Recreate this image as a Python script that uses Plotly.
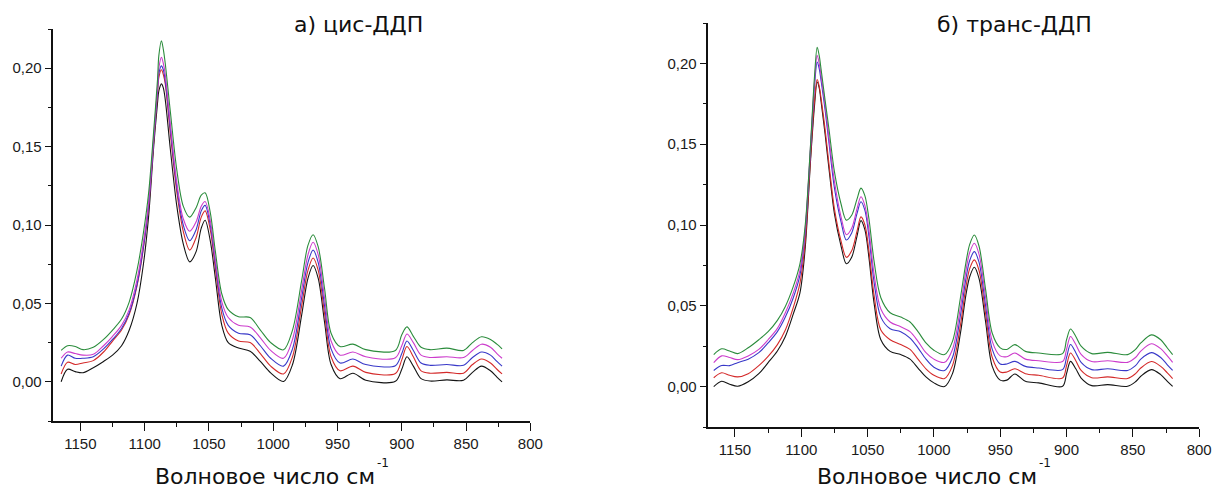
import plotly.graph_objects as go

# ---------------- data ----------------
WN_CIS = [1165, 1160, 1154, 1148, 1140, 1132, 1125, 1118, 1112, 1106, 1101, 1097, 1093, 1090, 1089, 1087,
          1085.5, 1084, 1080, 1075, 1070, 1065, 1060, 1056, 1053, 1049, 1045, 1040, 1035, 1027, 1018, 1010,
          1002, 992, 985, 978, 973, 969, 965, 960, 955, 948, 938, 928, 905, 900, 896, 891, 885, 878,
          865, 852, 845, 838, 831, 826, 822]
CIS_BLACK = [0.000, 0.008, 0.0065, 0.0058, 0.009, 0.013, 0.017, 0.023, 0.033, 0.050, 0.075, 0.105, 0.150, 0.178, 0.1855, 0.190,
             0.1875, 0.180, 0.148, 0.112, 0.088, 0.0765, 0.083, 0.098, 0.103, 0.090, 0.066, 0.036, 0.025, 0.0215, 0.0195, 0.013,
             0.0057, 0.0002, 0.011, 0.042, 0.066, 0.0742, 0.066, 0.0375, 0.011, 0.002, 0.0055, 0.001, 0.0003, 0.008, 0.016, 0.010, 0.002, 0.0005,
             0.0012, 0.001, 0.006, 0.010, 0.007, 0.003, 0.000]
CIS_RED = [0.005, 0.0125, 0.011, 0.012, 0.0135, 0.019, 0.026, 0.033, 0.043, 0.061, 0.085, 0.111, 0.153, 0.184, 0.194, 0.199,
           0.196, 0.190, 0.158, 0.121, 0.096, 0.084, 0.092, 0.105, 0.109, 0.097, 0.072, 0.043, 0.031, 0.026, 0.025, 0.018,
           0.010, 0.005, 0.016, 0.048, 0.071, 0.079, 0.071, 0.043, 0.016, 0.007, 0.010, 0.006, 0.0053, 0.014, 0.0225, 0.016, 0.007, 0.0055,
           0.006, 0.0055, 0.011, 0.0145, 0.012, 0.008, 0.005]
CIS_BLUE = [0.010, 0.017, 0.015, 0.015, 0.016, 0.021, 0.027, 0.034, 0.044, 0.062, 0.086, 0.112, 0.154, 0.186, 0.1965, 0.2015,
            0.199, 0.192, 0.161, 0.124, 0.100, 0.090, 0.097, 0.109, 0.1125, 0.100, 0.075, 0.047, 0.036, 0.031, 0.030, 0.023,
            0.015, 0.010, 0.021, 0.053, 0.076, 0.084, 0.076, 0.048, 0.021, 0.012, 0.0145, 0.011, 0.0103, 0.018, 0.026, 0.020, 0.012, 0.0105,
            0.011, 0.0105, 0.0155, 0.019, 0.017, 0.013, 0.010]
CIS_MAGENTA = [0.015, 0.019, 0.018, 0.017, 0.0175, 0.023, 0.029, 0.036, 0.046, 0.065, 0.089, 0.114, 0.156, 0.188, 0.200, 0.207,
               0.203, 0.196, 0.164, 0.127, 0.104, 0.096, 0.102, 0.112, 0.115, 0.103, 0.078, 0.051, 0.041, 0.036, 0.035, 0.028,
               0.020, 0.015, 0.027, 0.058, 0.081, 0.089, 0.081, 0.053, 0.026, 0.017, 0.019, 0.016, 0.0153, 0.023, 0.0305, 0.025, 0.017, 0.0155,
               0.016, 0.0155, 0.020, 0.024, 0.022, 0.018, 0.015]
CIS_GREEN = [0.020, 0.023, 0.0225, 0.0205, 0.022, 0.027, 0.033, 0.040, 0.051, 0.071, 0.095, 0.120, 0.160, 0.193, 0.208, 0.2175,
             0.212, 0.203, 0.172, 0.135, 0.112, 0.105, 0.111, 0.119, 0.1205, 0.108, 0.083, 0.056, 0.046, 0.0415, 0.041, 0.033,
             0.025, 0.0204, 0.033, 0.064, 0.087, 0.0938, 0.086, 0.059, 0.031, 0.0225, 0.024, 0.0205, 0.020, 0.030, 0.035, 0.029, 0.022, 0.0205,
             0.0215, 0.020, 0.025, 0.0287, 0.027, 0.024, 0.021]

WN_TRANS = [1166, 1160, 1154, 1148, 1140, 1132, 1125, 1118, 1112, 1106, 1101, 1097, 1093, 1090, 1088, 1086.5, 1085,
            1082, 1079, 1075, 1070, 1066, 1062, 1058, 1055, 1052, 1049, 1045, 1040, 1033, 1025, 1018, 1012,
            1006, 1000, 992, 986, 980, 976, 973, 969.5, 966, 961, 956, 950, 945, 939, 931, 921, 903, 900,
            897, 893, 889, 881, 869, 854, 848, 844, 836, 829, 824, 820]
TRANS_BLACK = [0.000, 0.0033, 0.0015, 0.0002, 0.003, 0.008, 0.0148, 0.022, 0.031, 0.045, 0.058, 0.086, 0.140, 0.174, 0.1885, 0.185, 0.176,
               0.156, 0.134, 0.107, 0.087, 0.076, 0.080, 0.093, 0.1027, 0.097, 0.080, 0.051, 0.029, 0.0218, 0.0198, 0.017, 0.0115,
               0.006, 0.0023, 0.000, 0.008, 0.033, 0.056, 0.068, 0.0739, 0.067, 0.040, 0.0125, 0.004, 0.004, 0.0078, 0.0033, 0.0023, 0.0002, 0.008,
               0.0156, 0.011, 0.0053, 0.0006, 0.0012, 0.0002, 0.003, 0.0064, 0.0105, 0.0074, 0.0033, 0.0002]
TRANS_RED = [0.0055, 0.0086, 0.007, 0.006, 0.008, 0.013, 0.0187, 0.026, 0.035, 0.049, 0.064, 0.090, 0.142, 0.177, 0.190, 0.186, 0.178,
             0.159, 0.137, 0.110, 0.090, 0.080, 0.084, 0.096, 0.105, 0.100, 0.084, 0.056, 0.035, 0.029, 0.026, 0.023, 0.017,
             0.011, 0.007, 0.005, 0.013, 0.038, 0.061, 0.073, 0.0784, 0.072, 0.045, 0.018, 0.009, 0.009, 0.011, 0.008, 0.007, 0.0053, 0.013,
             0.0208, 0.016, 0.010, 0.0055, 0.006, 0.005, 0.008, 0.0115, 0.0155, 0.0125, 0.0085, 0.005]
TRANS_BLUE = [0.010, 0.013, 0.013, 0.0148, 0.017, 0.021, 0.027, 0.034, 0.043, 0.055, 0.069, 0.096, 0.147, 0.186, 0.2008, 0.197, 0.189,
              0.171, 0.150, 0.123, 0.102, 0.0907, 0.095, 0.107, 0.1144, 0.109, 0.093, 0.064, 0.043, 0.0358, 0.034, 0.030, 0.024,
              0.017, 0.012, 0.010, 0.018, 0.044, 0.066, 0.078, 0.0835, 0.077, 0.050, 0.023, 0.014, 0.014, 0.0156, 0.0125, 0.0115, 0.0105, 0.018,
              0.026, 0.021, 0.015, 0.0105, 0.011, 0.010, 0.013, 0.017, 0.021, 0.018, 0.0135, 0.010]
TRANS_MAGENTA = [0.0148, 0.019, 0.018, 0.0167, 0.019, 0.023, 0.029, 0.036, 0.0457, 0.058, 0.072, 0.098, 0.149, 0.189, 0.205, 0.200, 0.192,
                 0.174, 0.153, 0.127, 0.105, 0.094, 0.098, 0.110, 0.1175, 0.112, 0.097, 0.069, 0.048, 0.040, 0.037, 0.034, 0.028,
                 0.021, 0.017, 0.015, 0.023, 0.049, 0.071, 0.083, 0.0887, 0.082, 0.055, 0.028, 0.019, 0.0185, 0.0208, 0.017, 0.016, 0.0155, 0.023,
                 0.031, 0.026, 0.020, 0.0155, 0.016, 0.015, 0.018, 0.022, 0.0265, 0.0235, 0.019, 0.015]
TRANS_GREEN = [0.0198, 0.0234, 0.022, 0.0204, 0.024, 0.029, 0.034, 0.041, 0.0496, 0.062, 0.076, 0.100, 0.150, 0.192, 0.210, 0.205, 0.196,
               0.177, 0.1586, 0.133, 0.113, 0.103, 0.106, 0.116, 0.1228, 0.118, 0.104, 0.077, 0.055, 0.0457, 0.043, 0.040, 0.034,
               0.027, 0.0225, 0.0198, 0.028, 0.055, 0.076, 0.088, 0.0938, 0.087, 0.060, 0.033, 0.024, 0.023, 0.026, 0.0218, 0.0208, 0.0204, 0.029,
               0.0356, 0.031, 0.025, 0.0204, 0.0212, 0.0198, 0.023, 0.027, 0.032, 0.029, 0.0239, 0.0198]

PANEL_TITLES = ["а) цис-ДДП", "б) транс-ДДП"]
X_TITLE = "Волновое число см"
X_TITLE_SUP = "-1"

# ---------------- styling ----------------
W, H = 1228, 488
COLORS = {"black": "#141414", "red": "#d42a2a", "blue": "#3838c8", "magenta": "#cc3ccc", "green": "#2b8c3c"}
TICK_FONT = dict(family="Liberation Sans, Arial, sans-serif", size=15, color="#1a1a1a")
TEXT_FONT = "DejaVu Sans, Verdana, sans-serif"


def px_x(p):
    return p / W


def px_y(p):
    return 1 - p / H


fig = go.Figure()

series_cis = [("black", CIS_BLACK), ("red", CIS_RED), ("blue", CIS_BLUE), ("magenta", CIS_MAGENTA), ("green", CIS_GREEN)]
series_trans = [("black", TRANS_BLACK), ("red", TRANS_RED), ("blue", TRANS_BLUE), ("magenta", TRANS_MAGENTA), ("green", TRANS_GREEN)]

for name, ys in series_cis:
    fig.add_trace(go.Scatter(x=WN_CIS, y=ys, mode="lines", xaxis="x", yaxis="y",
                             line=dict(color=COLORS[name], width=1.1, shape="spline", smoothing=0.9),
                             showlegend=False, hoverinfo="skip"))
for name, ys in series_trans:
    fig.add_trace(go.Scatter(x=WN_TRANS, y=ys, mode="lines", xaxis="x2", yaxis="y2",
                             line=dict(color=COLORS[name], width=1.1, shape="spline", smoothing=0.9),
                             showlegend=False, hoverinfo="skip"))

xcommon = dict(showline=True, linecolor="#111", linewidth=1.6, ticks="outside", ticklen=8, tickwidth=1.4,
               tickcolor="#111", tickfont=TICK_FONT, showgrid=False, zeroline=False, dtick=50, tick0=800,
               minor=dict(dtick=25, ticks="outside", ticklen=4, tickwidth=1.2, tickcolor="#111", showgrid=False),
               fixedrange=True)
ycommon = dict(showline=True, linecolor="#111", linewidth=1.6, ticks="outside", ticklen=7, tickwidth=1.4,
               tickcolor="#111", tickfont=TICK_FONT, showgrid=False, zeroline=False, dtick=0.05, tick0=0,
               tickformat=".2f", range=[-0.025, 0.225],
               minor=dict(dtick=0.025, ticks="outside", ticklen=4, tickwidth=1.2, tickcolor="#111", showgrid=False),
               fixedrange=True)

fig.update_layout(
    width=W, height=H,
    margin=dict(l=0, r=0, t=0, b=0),
    paper_bgcolor="white", plot_bgcolor="white",
    separators=", ",
    xaxis=dict(**xcommon, domain=[px_x(54), px_x(536)], range=[1171, 800], anchor="y"),
    yaxis=dict(**ycommon, domain=[px_y(421), px_y(29)], anchor="x"),
    xaxis2=dict(**xcommon, domain=[px_x(716), px_x(1212)], range=[1170, 800], anchor="y2"),
    yaxis2=dict(**ycommon, domain=[px_y(427), px_y(23)], anchor="x2"),
)

annotations = [
    dict(text=PANEL_TITLES[0], x=px_x(362), y=px_y(24), xanchor="center", yanchor="middle",
         font=dict(family=TEXT_FONT, size=22, color="#111")),
    dict(text=PANEL_TITLES[1], x=px_x(1025), y=px_y(24), xanchor="center", yanchor="middle",
         font=dict(family=TEXT_FONT, size=22, color="#111")),
    dict(text=X_TITLE, x=px_x(268), y=px_y(476), xanchor="center", yanchor="middle",
         font=dict(family=TEXT_FONT, size=22, color="#111")),
    dict(text=X_TITLE_SUP, x=px_x(387), y=px_y(463), xanchor="center", yanchor="middle",
         font=dict(family=TEXT_FONT, size=12, color="#111")),
    dict(text=X_TITLE, x=px_x(937), y=px_y(476), xanchor="center", yanchor="middle",
         font=dict(family=TEXT_FONT, size=22, color="#111")),
    dict(text=X_TITLE_SUP, x=px_x(1056), y=px_y(463), xanchor="center", yanchor="middle",
         font=dict(family=TEXT_FONT, size=12, color="#111")),
]
for a in annotations:
    a.update(xref="paper", yref="paper", showarrow=False)
fig.update_layout(annotations=annotations)

fig.write_html("out.html", config={"displayModeBar": False})
